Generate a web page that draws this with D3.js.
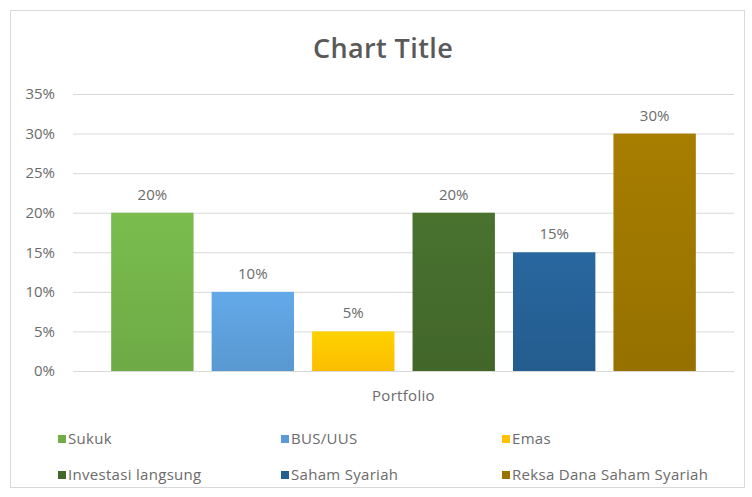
<!DOCTYPE html>
<html>
<head>
<meta charset="utf-8">
<script src="https://cdn.jsdelivr.net/npm/d3@7"></script>
<style>
  body { margin: 0; background: #fff; }
  text { font-family: "Open Sans", "Noto Sans", sans-serif; }
</style>
</head>
<body>
<div id="chart"></div>
<script>
// data
const category = "Portfolio";
const series = ["Sukuk", "BUS/UUS", "Emas", "Investasi langsung", "Saham Syariah", "Reksa Dana Saham Syariah"];
const values = [0.20, 0.10, 0.05, 0.20, 0.15, 0.30];
const yTicks = [0, 0.05, 0.10, 0.15, 0.20, 0.25, 0.30, 0.35];
const colors = ["#70AD47", "#5B9BD5", "#FFC000", "#43682B", "#255E91", "#997300"];

const width = 752, height = 497;
const margin = { top: 94, right: 18, bottom: 126, left: 73 };

const svg = d3.select("#chart").append("svg")
    .attr("width", width)
    .attr("height", height);

// chart frame
svg.append("rect")
    .attr("x", 10.5).attr("y", 10.5)
    .attr("width", 734).attr("height", 477)
    .attr("fill", "#fff")
    .attr("stroke", "#d9d9d9");

// gradients for bars (lighter on top, like the excel preset)
const defs = svg.append("defs");
series.forEach((s, i) => {
  const g = defs.append("linearGradient")
      .attr("id", "grad" + i)
      .attr("x1", 0).attr("y1", 0).attr("x2", 0).attr("y2", 1);
  g.append("stop").attr("offset", "0%").attr("stop-color", d3.color(colors[i]).brighter(0.25));
  g.append("stop").attr("offset", "100%").attr("stop-color", d3.color(colors[i]).darker(0.05));
});

const plotW = width - margin.left - margin.right;
const plotH = height - margin.top - margin.bottom;

const x0 = d3.scaleBand().domain([category]).range([margin.left, margin.left + plotW]);
const x1 = d3.scaleBand().domain(series)
    .range([x0(category), x0(category) + x0.bandwidth()])
    .paddingInner(0.18)
    .paddingOuter(0.38);

const y = d3.scaleLinear().domain([0, 0.35]).range([margin.top + plotH, margin.top]);

// title
svg.append("text")
    .attr("x", 383)
    .attr("y", 58)
    .attr("text-anchor", "middle")
    .attr("font-size", 27)
    .attr("font-weight", 600)
    .attr("letter-spacing", 0.4)
    .attr("fill", "#595959")
    .text("Chart Title");

// gridlines + y axis labels
const yAxis = d3.axisLeft(y)
    .tickValues(yTicks)
    .tickFormat(d3.format(".0%"))
    .tickSize(-plotW)
    .tickPadding(18);

const yg = svg.append("g")
    .attr("transform", `translate(${margin.left},0)`)
    .call(yAxis);
yg.select(".domain").remove();
yg.selectAll(".tick line").attr("stroke", "#d9d9d9");
yg.selectAll(".tick text")
    .attr("font-size", 15)
    .attr("fill", "#6b6b6b");

// bars
svg.append("g").selectAll("rect")
  .data(series)
  .join("rect")
    .attr("x", (d) => x1(d))
    .attr("y", (d, i) => y(values[i]))
    .attr("width", x1.bandwidth())
    .attr("height", (d, i) => y(0) - y(values[i]))
    .attr("fill", (d, i) => `url(#grad${i})`);

// data labels
svg.append("g").selectAll("text")
  .data(series)
  .join("text")
    .attr("x", (d) => x1(d) + x1.bandwidth() / 2)
    .attr("y", (d, i) => y(values[i]) - 13)
    .attr("text-anchor", "middle")
    .attr("font-size", 15)
    .attr("fill", "#6b6b6b")
    .text((d, i) => d3.format(".0%")(values[i]));

// category label
svg.append("text")
    .attr("x", x0(category) + x0.bandwidth() / 2)
    .attr("y", 401)
    .attr("text-anchor", "middle")
    .attr("font-size", 15)
    .attr("letter-spacing", 0.3)
    .attr("fill", "#6b6b6b")
    .text(category);

// legend, 3 columns x 2 rows
const legendCols = [58, 281, 502];
const legendRows = [439, 475];
const legend = svg.append("g").selectAll("g")
  .data(series)
  .join("g")
    .attr("transform", (d, i) => `translate(${legendCols[i % 3]},${legendRows[Math.floor(i / 3)]})`);

legend.append("rect")
    .attr("x", 0).attr("y", -4)
    .attr("width", 8).attr("height", 8)
    .attr("fill", (d, i) => colors[i]);

legend.append("text")
    .attr("x", 10)
    .attr("y", 0)
    .attr("dy", "0.35em")
    .attr("font-size", 15)
    .attr("letter-spacing", 0.3)
    .attr("fill", "#6b6b6b")
    .text((d) => d);
</script>
</body>
</html>
